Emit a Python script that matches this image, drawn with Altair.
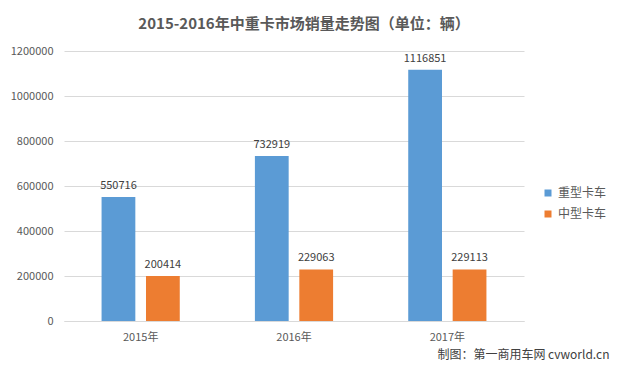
import altair as alt
import pandas as pd

years = ["2015年", "2016年", "2017年"]
series = ["重型卡车", "中型卡车"]
heavy = [550716, 732919, 1116851]
medium = [200414, 229063, 229113]
colors = ["#5B9BD5", "#ED7D31"]
y_ticks = [0, 200000, 400000, 600000, 800000, 1000000, 1200000]
title_text = "2015-2016年中重卡市场销量走势图（单位：辆）"
footer_text = "制图：第一商用车网 cvworld.cn"

rows = []
for i, yr in enumerate(years):
    rows.append({"year": yr, "type": series[0], "value": heavy[i]})
    rows.append({"year": yr, "type": series[1], "value": medium[i]})
df = pd.DataFrame(rows)

font = "Noto Sans CJK SC"
grey = "#595959"

x = alt.X(
    "year:N", sort=years,
    scale=alt.Scale(paddingInner=0.49, paddingOuter=0.245),
    axis=alt.Axis(
        labelAngle=0, ticks=False, domainColor="#d9d9d9", labelColor=grey,
        labelFontSize=11, labelPadding=10, labelFont=font,
        title=footer_text, titleFont=font, titleFontSize=12, titleFontWeight="normal",
        titleColor="#404040", titleAlign="right", titleX=545, titleY=33, titleBaseline="middle",
    ),
)
xo = alt.XOffset("type:N", sort=series, scale=alt.Scale(domain=series, paddingInner=0.24, paddingOuter=0))
y = alt.Y(
    "value:Q",
    scale=alt.Scale(domain=[0, 1200000], nice=False),
    axis=alt.Axis(
        values=y_ticks, format="d", ticks=False, domain=False, gridColor="#d9d9d9",
        labelColor=grey, labelFontSize=11, labelPadding=11, labelFont=font, title=None,
    ),
)
color = alt.Color(
    "type:N", sort=series,
    scale=alt.Scale(domain=series, range=colors),
    legend=alt.Legend(
        title=None, orient="none", legendX=478, legendY=136, symbolType="square",
        symbolSize=49, symbolStrokeWidth=0, labelFontSize=12, labelColor=grey, labelFont=font,
        rowPadding=9, labelOffset=4, padding=0,
    ),
)

base = alt.Chart(df).encode(x=x, xOffset=xo, y=y)
bars = base.mark_bar().encode(color=color)
labels = base.mark_text(dy=-6, baseline="bottom", fontSize=11, font=font, color="#404040").encode(
    text=alt.Text("value:Q", format="d")
)

chart = (
    alt.layer(bars, labels)
    .properties(
        width=460, height=270,
        title=alt.TitleParams(
            title_text, font=font, fontSize=15, fontWeight="bold", color=grey,
            anchor="middle", dx=10, offset=13,
        ),
        autosize=alt.AutoSizeParams(type="none"),
        padding={"left": 56, "top": 43, "right": 88, "bottom": 44},
        background="white",
    )
    .configure_view(stroke=None)
)

chart.save("out.html", embed_options={"renderer": "svg", "actions": False})
